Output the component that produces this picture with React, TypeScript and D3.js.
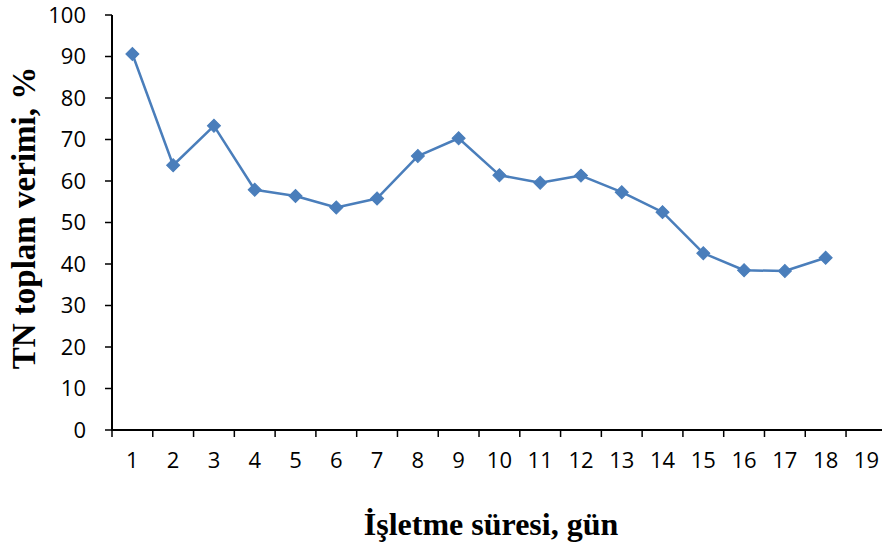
import React from "react";
import * as d3 from "d3";

const days = ["1","2","3","4","5","6","7","8","9","10","11","12","13","14","15","16","17","18","19"];
const pointDays = ["1","2","3","4","5","6","7","8","9","10","11","12","13","14","15","16","17","18"];
const tnEfficiency = [90.6, 63.8, 73.3, 57.9, 56.4, 53.6, 55.8, 66.0, 70.3, 61.4, 59.6, 61.3, 57.3, 52.5, 42.6, 38.5, 38.3, 41.5];
const yTicks = [0, 10, 20, 30, 40, 50, 60, 70, 80, 90, 100];

const W = 882, H = 545;
const left = 112, top = 15, bottom = 430;
const band = 40.78;
const color = "#4A7EBB";

export default function App() {
  const x = d3.scaleBand<string>().domain(days).range([left, left + band * days.length]).paddingInner(0).paddingOuter(0);
  const y = d3.scaleLinear().domain([0, 100]).range([bottom, top]);
  const line = d3.line<number>()
    .x((_, i) => (x(pointDays[i]) as number) + x.bandwidth() / 2)
    .y((d) => y(d));
  const diamond = d3.symbol().type(d3.symbolSquare).size(85)();
  const tickXs = days.map((d) => x(d) as number).concat([left + band * days.length]);
  return (
    <svg width={W} height={H} style={{ position: "absolute", left: 0, top: 0, background: "#fff" }}>
      <rect width={W} height={H} fill="#fff" />
      <line x1={left} x2={left} y1={top} y2={bottom + 1} stroke="#000" strokeWidth={2} />
      {yTicks.map((t) => (
        <g key={t}>
          <line x1={left - 7} x2={left} y1={y(t)} y2={y(t)} stroke="#000" strokeWidth={1.5} />
          <text x={86} y={y(t)} dy="0.36em" textAnchor="end" fontFamily="'Open Sans', sans-serif" fontSize={22} fill="#000">{t}</text>
        </g>
      ))}
      <line x1={left - 1} x2={W} y1={bottom} y2={bottom} stroke="#000" strokeWidth={2} />
      {tickXs.map((tx, i) => (
        <line key={i} x1={tx} x2={tx} y1={bottom} y2={bottom + 7} stroke="#000" strokeWidth={1.5} />
      ))}
      {days.map((d) => (
        <text key={d} x={(x(d) as number) + x.bandwidth() / 2} y={468} textAnchor="middle" fontFamily="'Open Sans', sans-serif" fontSize={22} fill="#000">{d}</text>
      ))}
      <path d={line(tnEfficiency) || ""} fill="none" stroke={color} strokeWidth={2.5} strokeLinejoin="round" />
      {tnEfficiency.map((v, i) => (
        <path key={i} d={diamond || ""} fill={color} stroke={color} strokeWidth={1}
          transform={`translate(${(x(pointDays[i]) as number) + x.bandwidth() / 2},${y(v)}) rotate(45)`} />
      ))}
      <text x={491} y={535} textAnchor="middle" fontFamily="'Liberation Serif', 'Times New Roman', serif" fontWeight="bold" fontSize={32} fill="#000">İşletme süresi, gün</text>
      <text transform={`translate(35,218) rotate(-90)`} textAnchor="middle" fontFamily="'Liberation Serif', 'Times New Roman', serif" fontWeight="bold" fontSize={33} fill="#000">TN toplam verimi, %</text>
    </svg>
  );
}
